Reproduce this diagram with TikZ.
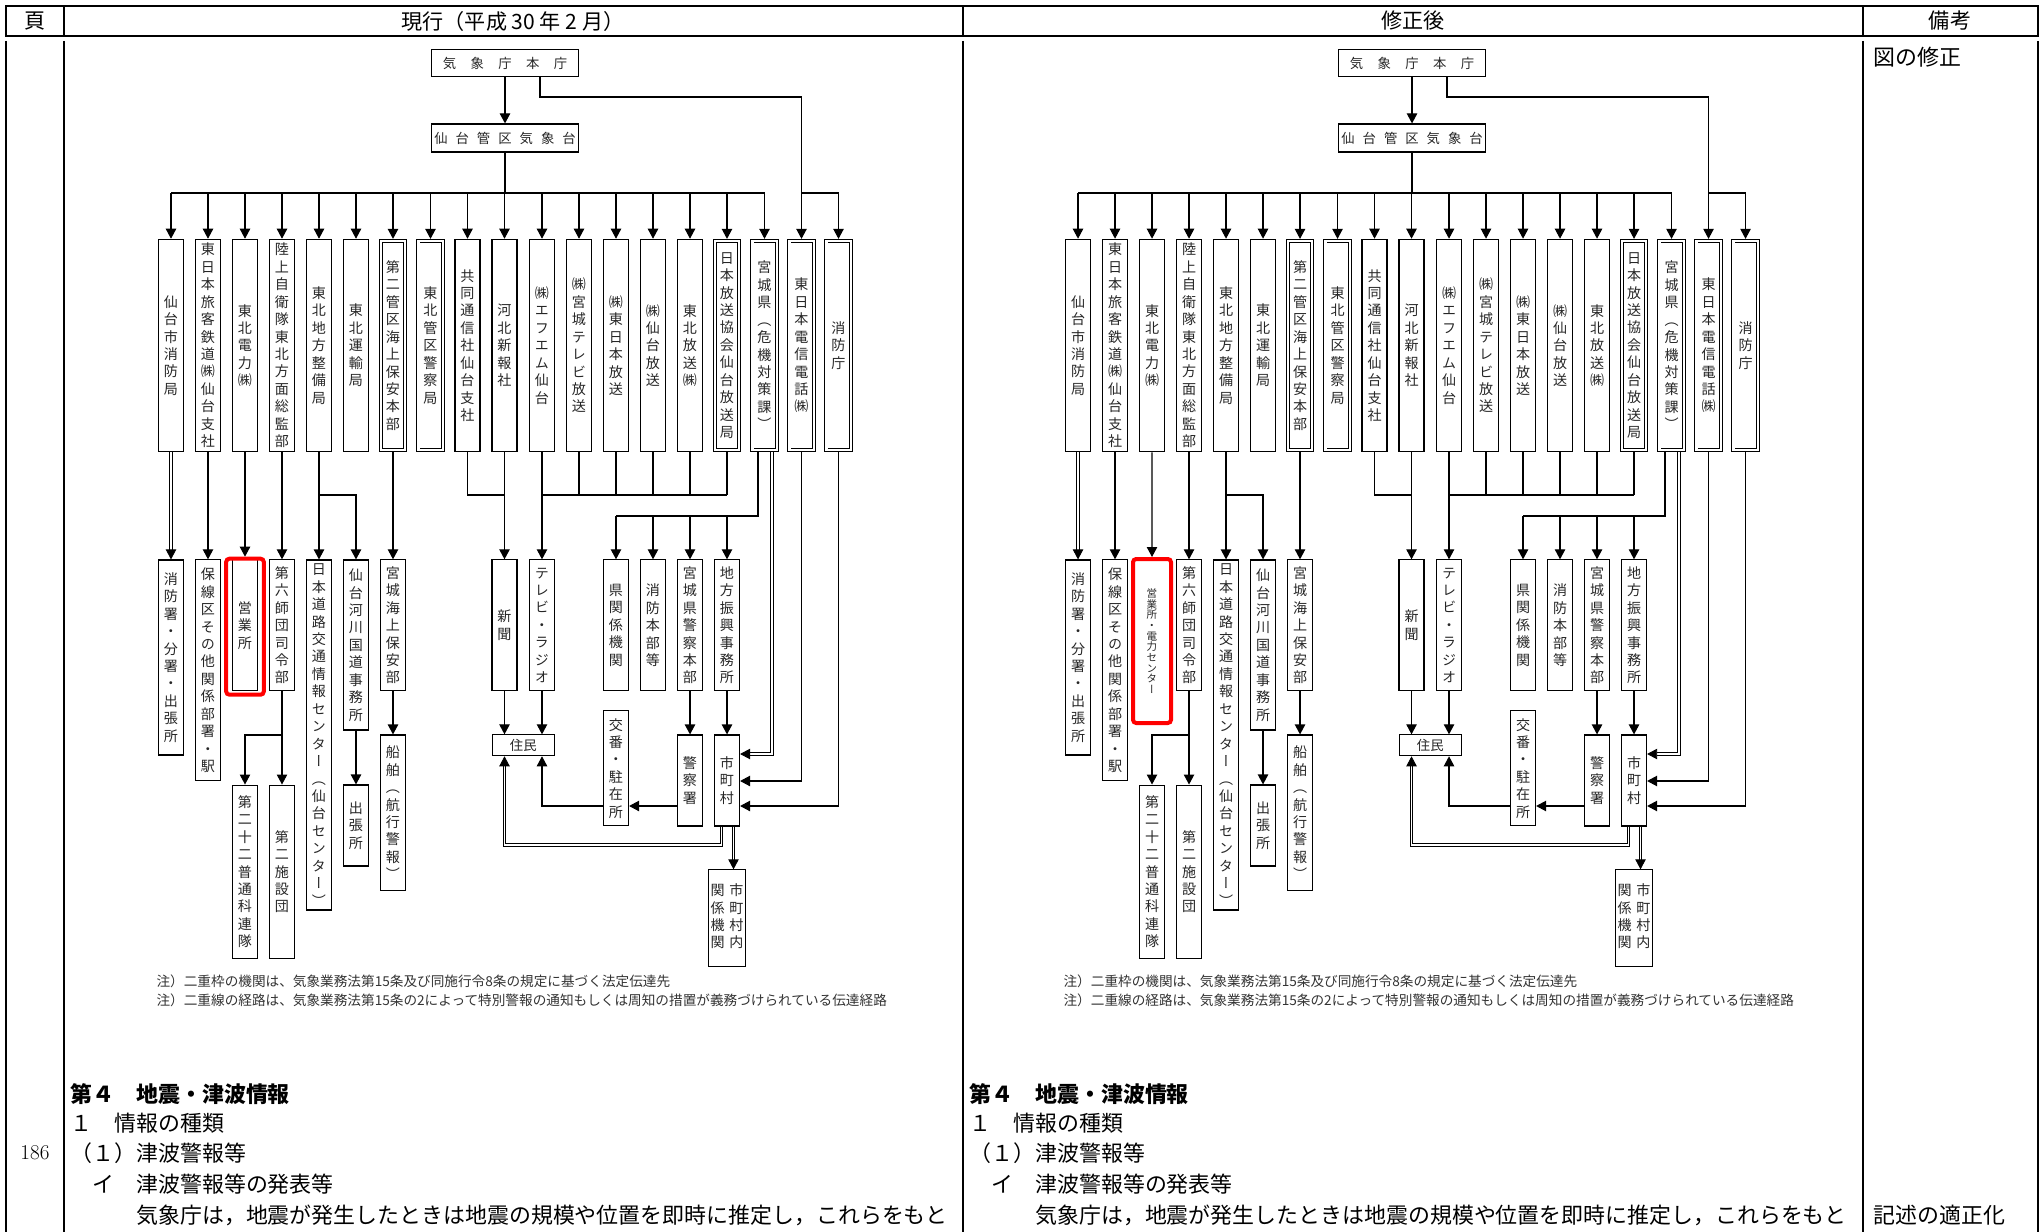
\documentclass[tikz,border=0pt]{standalone}
\usepackage{fontspec}
\newfontfamily\jp{Noto Sans CJK JP}
\newfontfamily\tatefont[RawFeature=+vert]{Noto Sans CJK JP}
\usetikzlibrary{arrows.meta}

% vertical text: one character per line
\newcommand\tate[1]{\tateA#1\relax}
\def\tateA#1{#1\tateB}
\def\tateB#1{\ifx\relax#1\else\\#1\expandafter\tateB\fi}

% one copy of the chart, shifted by #2
\newcommand\tsutatsu[2]{%
\begin{scope}[xshift=#2]
\node[hbox,minimum width=36.9mm,minimum height=6.6mm] (#1hon) at (505,63) {気\hspace{3.6mm}象\hspace{3.6mm}庁\hspace{3.6mm}本\hspace{3.6mm}庁};
\node[hbox,minimum width=36.9mm,minimum height=7mm] (#1kan) at (505,138) {仙\hspace{2mm}台\hspace{2mm}管\hspace{2mm}区\hspace{2mm}気\hspace{2mm}象\hspace{2mm}台};
% first row
\node[topbox] (#1t1) at (171,345.5) {\tate{仙台市消防局}};
\node[topbox] (#1t2) at (208,345.5) {\tate{東日本旅客鉄道㈱仙台支社}};
\node[topbox] (#1t3) at (245,345.5) {\tate{東北電力㈱}};
\node[topbox] (#1t4) at (282,345.5) {\tate{陸上自衛隊東北方面総監部}};
\node[topbox] (#1t5) at (319,345.5) {\tate{東北地方整備局}};
\node[topbox] (#1t6) at (356,345.5) {\tate{東北運輸局}};
\node[dtop] (#1t7) at (393,345.5) {\tate{第二管区海上保安本部}};
\node[dtop] (#1t8) at (430.5,345.5) {\tate{東北管区警察局}};
\node[topbox] (#1t9) at (467.5,345.5) {\tate{共同通信社仙台支社}};
\node[topbox] (#1t10) at (504.5,345.5) {\tate{河北新報社}};
\node[topbox] (#1t11) at (542,345.5) {\tate{㈱エフエム仙台}};
\node[topbox] (#1t12) at (579,345.5) {\tate{㈱宮城テレビ放送}};
\node[topbox] (#1t13) at (616,345.5) {\tate{㈱東日本放送}};
\node[topbox] (#1t14) at (653,345.5) {\tate{㈱仙台放送}};
\node[topbox] (#1t15) at (690,345.5) {\tate{東北放送㈱}};
\node[dtop] (#1t16) at (727,345.5) {\tate{日本放送協会仙台放送局}};
\node[dtop] (#1t17) at (764.5,345.5) {\tate{宮城県（危機対策課）}};
\node[dtop] (#1t18) at (801.5,345.5) {\tate{東日本電信電話㈱}};
\node[dtop] (#1t19) at (838.5,345.5) {\tate{消防庁}};
% second row
\node[vbox,minimum height=48.75mm] (#1s1) at (171,657.5) {\tate{消防署・分署・出張所}};
\node[vbox,minimum height=55.2mm] (#1s2) at (208,670.3) {\tate{保線区その他関係部署・駅}};
\node[mid] (#1s4) at (282,625.3) {\tate{第六師団司令部}};
\node[vbox,minimum height=87.5mm] (#1s5) at (319,735) {\tate{日本道路交通情報センター（仙台センター）}};
\node[vbox,minimum height=42.5mm] (#1s6) at (356,645) {\tate{仙台河川国道事務所}};
\node[mid] (#1s7) at (393,625.3) {\tate{宮城海上保安部}};
\node[mid] (#1n1) at (504.5,625.3) {\tate{新聞}};
\node[mid] (#1n2) at (542,625.3) {\tate{テレビ・ラジオ}};
\node[mid] (#1k1) at (616,625.3) {\tate{県関係機関}};
\node[mid] (#1k2) at (653,625.3) {\tate{消防本部等}};
\node[mid] (#1k3) at (690,625.3) {\tate{宮城県警察本部}};
\node[mid] (#1k4) at (727,625.3) {\tate{地方振興事務所}};
% third row
\node[hbox,minimum width=15.5mm,minimum height=5.2mm] (#1ju) at (523.3,745.3) {住民};
\node[vbox,minimum height=28.8mm] (#1kb) at (616,768.3) {\tate{交番・駐在所}};
\node[vbox,minimum height=22.75mm] (#1m2) at (690,780.5) {\tate{警察署}};
\node[vbox,minimum height=22.75mm] (#1m3) at (727,780.5) {\tate{市町村}};
\node[vbox,minimum width=9.4mm,minimum height=24.2mm] (#1m4) at (727,918.3)
  {\begin{tabular}{@{}c@{\hspace{1.2mm}}c@{}}\begin{tabular}{@{}c@{}}\tate{関係機関}\end{tabular}&\begin{tabular}{@{}c@{}}\tate{市町村内}\end{tabular}\end{tabular}};
\node[vbox,minimum height=43.3mm] (#1u1) at (245,871.7) {\tate{第二十二普通科連隊}};
\node[vbox,minimum height=43.3mm] (#1u2) at (282,871.7) {\tate{第二施設団}};
\node[vbox,minimum height=20.25mm] (#1u3) at (356,825.5) {\tate{出張所}};
\node[vbox,minimum height=38.9mm] (#1u4) at (393,812.8) {\tate{船舶（航行警報）}};
% notes
\node[note] (#1chu1) at (156,981) {注）二重枠の機関は、気象業務法第15条及び同施行令8条の規定に基づく法定伝達先};
\node[note] (#1chu2) at (156,1000) {注）二重線の経路は、気象業務法第15条の2によって特別警報の通知もしくは周知の措置が義務づけられている伝達経路};
% junctions
\coordinate (#1bus) at (505,193);
\coordinate (#1hb) at (540,97);
\coordinate (#1j1) at (319,495);
\coordinate (#1j3) at (758,516);
\coordinate (#1j4) at (772,754);
\coordinate (#1j5) at (801.5,781);
\coordinate (#1j6) at (838.5,806);
\coordinate (#1j7) at (721.5,845);
\coordinate (#1j8) at (733.5,848);
\coordinate (#1j9) at (282,735);
% connectors
\draw[arr] (#1hon) -- (#1kan);
\draw (#1kan) -- (#1bus);
\draw (#1t1 |- #1bus) -- (#1t17 |- #1bus);
\draw (#1hon.south -| #1hb) -- (#1hb) -| (#1t18 |- #1bus) -- (#1t19 |- #1bus);
\path (#1t1 |- #1bus) edge[arr] (#1t1) (#1t2 |- #1bus) edge[arr] (#1t2) (#1t3 |- #1bus) edge[arr] (#1t3)
  (#1t4 |- #1bus) edge[arr] (#1t4) (#1t5 |- #1bus) edge[arr] (#1t5) (#1t6 |- #1bus) edge[arr] (#1t6)
  (#1t7 |- #1bus) edge[arr] (#1t7) (#1t8 |- #1bus) edge[arr] (#1t8) (#1t9 |- #1bus) edge[arr] (#1t9)
  (#1t10 |- #1bus) edge[arr] (#1t10) (#1t11 |- #1bus) edge[arr] (#1t11) (#1t12 |- #1bus) edge[arr] (#1t12)
  (#1t13 |- #1bus) edge[arr] (#1t13) (#1t14 |- #1bus) edge[arr] (#1t14) (#1t15 |- #1bus) edge[arr] (#1t15)
  (#1t16 |- #1bus) edge[arr] (#1t16) (#1t17 |- #1bus) edge[arr] (#1t17) (#1t18 |- #1bus) edge[arr] (#1t18)
  (#1t19 |- #1bus) edge[arr] (#1t19);
\draw[arr,dbl] (#1t1) -- (#1s1);
\path (#1t2) edge[arr] (#1s2) (#1t4) edge[arr] (#1s4) (#1t5) edge[arr] (#1s5) (#1t7) edge[arr] (#1s7)
  (#1t10) edge[arr] (#1n1) (#1t11) edge[arr] (#1n2);
\draw[arr] (#1j1) -| (#1s6);
\draw (#1t9) |- (#1t10 |- #1j1);
\draw (#1t11 |- #1j1) -- (#1t16 |- #1j1);
\path (#1t12) edge (#1t12 |- #1j1) (#1t13) edge (#1t13 |- #1j1) (#1t14) edge (#1t14 |- #1j1)
  (#1t15) edge (#1t15 |- #1j1) (#1t16) edge (#1t16 |- #1j1);
\draw (#1t17.south -| #1j3) -- (#1j3) -- (#1k1 |- #1j3);
\path (#1k1 |- #1j3) edge[arr] (#1k1) (#1k2 |- #1j3) edge[arr] (#1k2) (#1k3 |- #1j3) edge[arr] (#1k3)
  (#1k4 |- #1j3) edge[arr] (#1k4);
\path (#1k3) edge[arr] (#1m2) (#1k4) edge[arr] (#1m3);
\draw[arr,dbl] (#1t17.south -| #1j4) -- (#1j4) -- (#1m3.east |- #1j4);
\draw[arr] (#1t18) |- (#1m3.east |- #1j5);
\draw[arr] (#1t19) |- (#1m3.east |- #1j6);
\draw[arr] (#1m2.west |- #1j6) -- (#1kb.east |- #1j6);
\draw[arr] (#1kb.west |- #1j6) -| (#1ju.south -| #1n2);
\path (#1n1) edge[arr] (#1ju.north -| #1n1) (#1n2) edge[arr] (#1ju.north -| #1n2);
\draw[arr,dbl] (#1m3.south -| #1j7) -- (#1j7) -| (#1ju.south -| #1n1);
\draw[arr,dbl] (#1m3.south -| #1j8) -- (#1m4.north -| #1j8);
\path (#1s4) edge[arr] (#1u2) (#1s6) edge[arr] (#1u3) (#1s7) edge[arr] (#1u4);
\draw[arr] (#1j9) -| (#1u1);
\end{scope}}

\begin{document}
\begin{tikzpicture}[x=0.25mm,y=-0.25mm,line width=0.8pt,
  hbox/.style={draw,inner sep=0pt,text=black!85,font=\jp\fontsize{9.5pt}{11pt}\selectfont},
  vbox/.style={draw,minimum width=6.25mm,inner sep=0pt,align=center,text=black!85,
    font=\tatefont\fontsize{10pt}{12.4pt}\selectfont},
  topbox/.style={vbox,minimum height=53.1mm},
  dtop/.style={vbox,double,double distance=0.6mm,line width=0.5pt,minimum width=6.1mm,
    minimum height=52.2mm,outer sep=0.55mm},
  mid/.style={vbox,minimum height=32.7mm},
  redbox/.style={draw=red,line width=1mm,rounded corners=0.8mm,inner sep=0pt},
  arr/.style={-{Triangle[width=2.6mm,length=2.5mm]}},
  dbl/.style={double,double distance=1.3pt,line width=0.6pt},
  tab/.style={line width=2pt},
  head/.style={inner sep=0pt,font=\jp\fontsize{15pt}{17pt}\selectfont},
  body/.style={anchor=west,inner sep=0pt,font=\jp\fontsize{15.6pt}{18pt}\selectfont},
  note/.style={anchor=west,inner sep=0pt,text=black!80,font=\jp\fontsize{9.7pt}{11pt}\selectfont}
]
\useasboundingbox (0,0) rectangle (2044,1232);

% table frame
\draw[tab] (6,6) rectangle (2038,36);
\draw[tab] (64,6) -- (64,36) (963,6) -- (963,36) (1863,6) -- (1863,36);
\draw[tab] (6,41) -- (6,1232) (64,41) -- (64,1232) (963,41) -- (963,1232)
  (1863,41) -- (1863,1232) (2038,41) -- (2038,1232);
\node[head] (hpage) at (35,21) {頁};
\node[head] (hold) at (513,21) {現行（平成 30 年 2 月）};
\node[head] (hnew) at (1413,21) {修正後};
\node[head] (hrem) at (1950,21) {備考};

% the two charts
\tsutatsu{L}{0mm}
\tsutatsu{R}{226.75mm}

% the box that differs
\node[mid] (Ls3) at (245,625.3) {\tate{営業所}};
\node[redbox,minimum width=9.4mm,minimum height=34mm] (Lred) at (245,626.7) {};
\draw[arr] (Lt3) -- (Lred);
\node[redbox,minimum width=9.5mm,minimum height=41mm,align=center,text=black!85,
  font=\tatefont\fontsize{7.5pt}{7.6pt}\selectfont] (Rs3) at (1152,641) {\tate{営業所・電力センター}};
\draw[arr] (Rt3) -- (Rs3);

% text below
\node[anchor=east,inner sep=0pt,font=\fontsize{15pt}{18pt}\selectfont] (page) at (50,1153) {186};
\node[body] (Lsec) at (70,1094) {\bfseries 第４　地震・津波情報};
\node[body] (Lsub) at (70,1123) {１　情報の種類};
\node[body] (Lsubsub) at (70,1153) {（１）津波警報等};
\node[body] (Litem) at (70,1184) {　イ　津波警報等の発表等};
\node[body] (Ltext) at (70,1215) {　　　気象庁は，地震が発生したときは地震の規模や位置を即時に推定し，これらをもと};
\node[body] (Rsec) at (969,1094) {\bfseries 第４　地震・津波情報};
\node[body] (Rsub) at (969,1123) {１　情報の種類};
\node[body] (Rsubsub) at (969,1153) {（１）津波警報等};
\node[body] (Ritem) at (969,1184) {　イ　津波警報等の発表等};
\node[body] (Rtext) at (969,1215) {　　　気象庁は，地震が発生したときは地震の規模や位置を即時に推定し，これらをもと};
\node[body] (rem1) at (1873,57) {図の修正};
\node[body] (rem2) at (1873,1215) {記述の適正化};
\end{tikzpicture}
\end{document}
